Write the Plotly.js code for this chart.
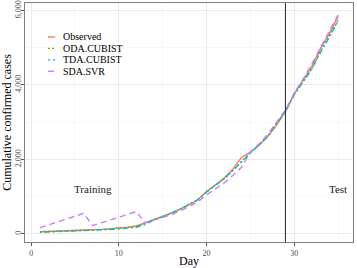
<!DOCTYPE html>
<html>
<head>
<meta charset="utf-8">
<script src="https://cdn.plot.ly/plotly-3.0.1.min.js"></script>
<style>html,body{margin:0;padding:0;background:#fff;}#chart{width:357px;height:268px;}</style>
</head>
<body>
<div id="chart"></div>
<script>
// ---- data ----
const days = [1,2,3,4,5,6,7,8,9,10,11,12,13,14,15,16,17,18,19,20,21,22,23,24,25,26,27,28,29,30,31,32,33,34,35];
const observed = [60,66,73,82,92,102,112,125,140,160,185,215,300,390,465,560,665,780,912,1140,1315,1495,1740,2060,2200,2380,2620,2920,3300,3760,4120,4500,4980,5380,5840];
const odaCubist = [55,62,70,80,90,100,110,120,135,150,175,205,280,385,465,565,670,790,925,1130,1300,1480,1700,1950,2190,2400,2640,2980,3290,3750,4080,4430,4900,5300,5730];
const tdaCubist = [45,52,60,70,80,90,100,110,120,135,150,180,250,380,460,560,670,785,920,1125,1300,1485,1710,1940,2185,2390,2630,2970,3280,3740,4070,4420,4880,5280,5720];
const sdaSvr = [170,250,330,400,480,555,225,300,370,450,520,600,295,370,440,520,620,730,860,1050,1200,1370,1570,1790,2200,2420,2680,3020,3330,3780,4150,4560,5000,5450,5880];
const seriesNames = ["Observed","ODA.CUBIST","TDA.CUBIST","SDA.SVR"];
const seriesColors = ["#F8766D","#7CAE00","#00BFC4","#C77CFF"];
const seriesDash = ["solid","2px,2px","2px,3px,5px,3px","6px,4px"];
const testStartDay = 29;
const phaseLabels = ["Training","Test"];
const phaseLabelDays = [7,35];
const phaseLabelValue = 1200;
const xTicks = [0,10,20,30];
const yTicks = [0,2000,4000,6000];

const allSeries = [observed, odaCubist, tdaCubist, sdaSvr];
const FONT = "Liberation Serif, Times New Roman, serif";

const traces = allSeries.map((vals,i)=>({
  x: days, y: vals, type:"scatter", mode:"lines", name: seriesNames[i],
  line:{color: seriesColors[i], width:1.4, dash: seriesDash[i]},
  showlegend:false
}));

// compact legend in the ggplot style, drawn at the top left of the panel
const legX0 = 0.070, legX1 = 0.092, legTextX = 0.113;
const legY = [0.858, 0.810, 0.762, 0.714];
const shapes = [];
const annotations = [];
seriesNames.forEach((n,i)=>{
  shapes.push({type:"line", xref:"paper", yref:"paper", x0:legX0, x1:legX1, y0:legY[i], y1:legY[i],
    line:{color:seriesColors[i], width:1.4, dash:seriesDash[i]}});
  annotations.push({xref:"paper", yref:"paper", x:legTextX, y:legY[i], text:n, showarrow:false,
    xanchor:"left", yanchor:"middle", borderpad:0, font:{family:FONT, size:10, color:"#000"}});
});
shapes.push({type:"line", xref:"x", yref:"paper", x0:testStartDay, x1:testStartDay, y0:0, y1:1,
  line:{color:"#333333", width:1.1}});
phaseLabels.forEach((t,i)=>{
  annotations.push({xref:"x", yref:"y", x:phaseLabelDays[i], y:phaseLabelValue, text:t, showarrow:false,
    xanchor:"center", yanchor:"middle", font:{family:FONT, size:11, color:"#1a1a1a"}});
});

const axisCommon = {
  showline:true, mirror:true, linecolor:"#7f7f7f", linewidth:1.2,
  showgrid:true, gridcolor:"#ebebeb", gridwidth:1,
  zeroline:false, ticks:"outside", ticklen:3, tickcolor:"#555", tickwidth:1,
  tickfont:{family:FONT, size:8, color:"#4d4d4d"}
};

const layout = {
  width:357, height:268,
  margin:{l:25, r:4, t:3, b:26},
  paper_bgcolor:"#fff", plot_bgcolor:"#fff",
  font:{family:FONT},
  xaxis:Object.assign({}, axisCommon, {
    range:[-0.7,36.7], tickvals:xTicks, ticktext:xTicks.map(String),
    minor:{dtick:5, tick0:5, showgrid:true, gridcolor:"#f4f4f4", gridwidth:0.6, ticks:""},
    title:{text:"Day", font:{family:FONT, size:12, color:"#000"}, standoff:0},
    automargin:false
  }),
  yaxis:Object.assign({}, axisCommon, {
    range:[-215,6200], tickvals:yTicks, ticktext:yTicks.map(v=>v.toLocaleString("en-US")),
    tickangle:-90, ticklabelstandoff:-3,
    minor:{dtick:1000, tick0:1000, showgrid:true, gridcolor:"#f4f4f4", gridwidth:0.6, ticks:""},
    title:{text:"Cumulative confirmed cases", font:{family:FONT, size:12, color:"#000"}, standoff:4},
    automargin:false
  }),
  shapes:shapes,
  annotations:annotations,
  showlegend:false
};

Plotly.newPlot("chart", traces, layout, {displayModeBar:false, staticPlot:true});
</script>
</body>
</html>
